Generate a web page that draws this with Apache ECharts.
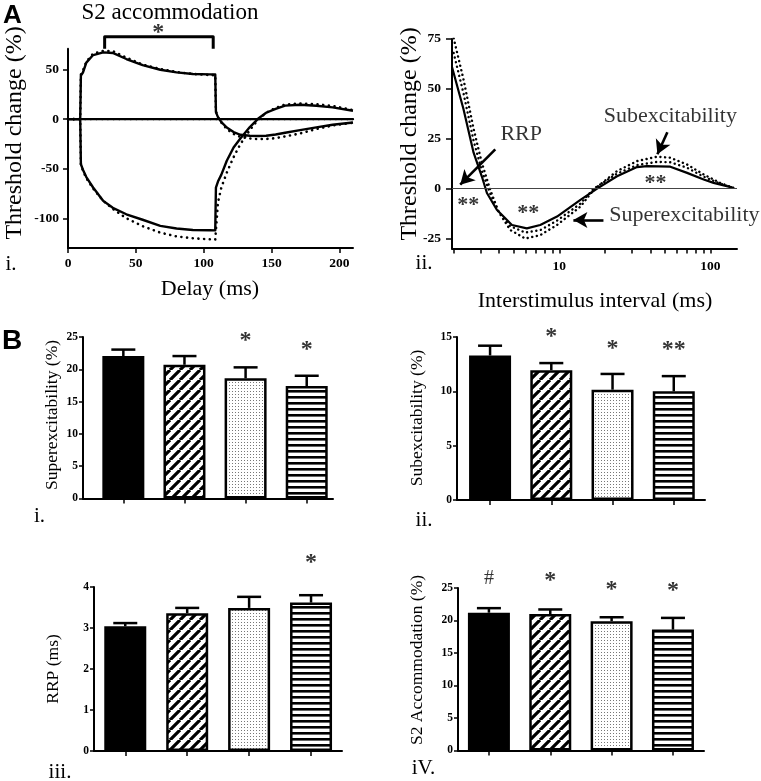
<!DOCTYPE html>
<html>
<head>
<meta charset="utf-8">
<script src="https://cdn.jsdelivr.net/npm/echarts@6.0.0/dist/echarts.min.js"></script>
<style>
html,body{margin:0;padding:0;background:#fff;}
#chart{width:761px;height:781px;}
</style>
</head>
<body>
<div id="chart"></div>
<script>
// ---------- Panel A-i ----------
const delayMs     = [0, 9, 9.5, 11, 13.5, 18.5, 26, 33, 43, 55, 68, 80, 92, 104.5, 108.5, 109, 110.5, 113, 117, 122, 127, 134, 140, 146, 153, 160, 171, 183, 195, 210];
const depolSolid  = [0, 0, 44, 47, 57, 64.6, 67.3, 66.7, 60.6, 54.5, 49.8, 47.1, 45.5, 45.1, 45, 7, 2, -3, -8.5, -13, -15.8, -16.8, -17, -16.8, -15.5, -13.8, -11.1, -8.4, -5.7, -3.4];
const depolDotted = [0, 0, 45, 49, 58, 66, 68.8, 68.5, 62, 55, 50.5, 47.5, 45.5, 44.5, 44.3, 8, 2, -3.5, -10, -15, -18, -19.5, -20.2, -20, -19.2, -17.5, -14.5, -10, -6.5, -3.7];
const hyperSolid  = [0, 0, -45.5, -51, -58.5, -69, -82.5, -89.5, -96, -101.5, -107.7, -110.3, -111.8, -112.1, -112.2, -69, -63, -56, -42, -28.6, -19.5, -8, 0.3, 6.4, 10.4, 13.6, 14.5, 13.5, 11.8, 8.4];
const hyperDotted = [0, 0, -46, -52, -59.5, -70, -82.5, -90.5, -100, -108, -114.5, -118.3, -120.2, -121.2, -121.5, -121.5, -84, -69, -54, -38.4, -25.3, -11, -0.7, 6.5, 11.3, 14.8, 15.7, 15, 13.3, 9.1];
const delayTicks  = [0, 50, 100, 150, 200];
const tcTicksA    = [-100, -50, 0, 50];
const bracketX    = [27, 27, 107, 107];
const bracketY    = [71, 83, 83, 71];
const bracketStar = [66.5, 91];

// ---------- Panel A-ii ----------
const isiSolid       = [1.95, 2.32, 2.71, 3.07, 3.32, 3.86, 4.86, 6.1, 7.48, 9.66, 13.8, 17.8, 24.1, 32.7, 38, 54.3, 70.1, 90.3, 105, 143];
const recSolid       = [61, 40, 18, 6.2, -2.2, -10.6, -18.2, -19.9, -18.2, -14, -5.6, 0, 6.2, 10.8, 11.3, 11, 7.9, 4.6, 2.9, 0.3];
const isiDotted      = [2.0, 2.32, 2.71, 3.07, 3.49, 3.96, 4.73, 5.96, 7.48, 9.66, 13.8, 16.9, 24.1, 32.7, 44.3, 54.3, 70.1, 90.3, 116, 143];
const recDottedOuter = [75.4, 55, 30, 13, -0.5, -11.5, -20.7, -25, -23.3, -18.2, -9, -0.5, 8.8, 13.8, 16, 15.5, 12.1, 7.1, 2.9, 0.3];
const recDottedInner = [68, 48, 24, 9, -2.5, -11.5, -18.8, -22, -20.8, -16, -7.5, 0, 7.5, 11.8, 13.4, 13.2, 10.5, 6, 2.5, 0.3];
const isiLabelTicks  = [10, 100];
const isiMinorTicks  = [2, 3, 4, 5, 6, 7, 8, 9, 10, 20, 30, 40, 50, 60, 70, 80, 90, 100];
const tcTicksB       = [-25, 0, 25, 50, 75];
const recNoteText    = ['RRP', 'Subexcitability', 'Superexcitability', '**', '**', '**'];
const recNoteIsi     = [5.6, 54.3, 67.3, 2.5, 6.24, 43.3];
const recNoteVal     = [27.3, 36.4, -13.2, -6.6, -10.6, 4.6];
const recArrowFrom   = [[3.77, 19.7], [19.6, -15.7], [51.9, 28.3]];
const recArrowTo     = [[2.21, 2.0], [12.4, -15.7], [44.6, 17.2]];

// ---------- Panel B ----------
const groupPos   = [1, 2, 3, 4];
const superMean  = [22.05, 20.7, 18.6, 17.4];
const superSem   = [1.0, 1.35, 1.7, 1.6];
const superSig   = ['', '', '*', '*'];
const superSigAt = [0, 0, 25.0, 23.7];
const subMean    = [13.3, 11.95, 10.15, 10.0];
const subSem     = [0.9, 0.65, 1.45, 1.4];
const subSig     = ['', '*', '*', '**'];
const subSigAt   = [0, 15.4, 14.3, 14.2];
const rrpMean    = [3.04, 3.36, 3.49, 3.62];
const rrpSem     = [0.08, 0.13, 0.27, 0.18];
const rrpSig     = ['', '', '', '*'];
const rrpSigAt   = [0, 0, 0, 4.7];
const s2Mean     = [21.2, 21.0, 19.9, 18.6];
const s2Sem      = [0.7, 0.7, 0.6, 1.8];
const s2Sig      = ['#', '*', '*', '*'];
const s2SigAt    = [26.4, 26.7, 25.4, 25.2];

// ---------- patterns ----------
function makeCanvas(w, h, draw) {
  const c = document.createElement('canvas'); c.width = w; c.height = h;
  const g = c.getContext('2d'); g.fillStyle = '#fff'; g.fillRect(0, 0, w, h); draw(g); return c;
}
const patDiag = makeCanvas(10, 10, g => {
  g.strokeStyle = '#000'; g.lineWidth = 3.2; g.beginPath();
  for (const k of [-1, 0, 1]) { g.moveTo(k * 10, 10); g.lineTo(k * 10 + 10, 0); }
  g.stroke();
});
const patDots = makeCanvas(3, 3, g => { g.fillStyle = '#777'; g.fillRect(1, 1, 1, 1); });
const patHoriz = makeCanvas(6, 6, g => { g.fillStyle = '#000'; g.fillRect(0, 0, 6, 2); g.fillStyle = '#666'; g.fillRect(0, 2, 6, 1); });
const barFills = ['#000', { image: patDiag, repeat: 'repeat' }, { image: patDots, repeat: 'repeat' }, { image: patHoriz, repeat: 'repeat' }];

const SERIF = 'Liberation Serif';
const zip = (a, b) => a.map((v, i) => [v, b[i]]);

function yAxisOf(grid, min, max, opts) {
  return Object.assign({
    type: 'value', gridIndex: grid, min: min, max: max,
    axisLine: { show: true, lineStyle: { color: '#000', width: 2 } },
    axisTick: { show: true, length: 4, lineStyle: { color: '#000', width: 1.5 } },
    axisLabel: { color: '#000', fontFamily: SERIF, fontWeight: 'bold', fontSize: 11.5, margin: 5 },
    splitLine: { show: false }
  }, opts);
}

const grids = [
  { left: 68, top: 48.7, width: 285, height: 199.3 },
  { left: 452, top: 39, width: 285, height: 209.5 },
  { left: 83, top: 337, width: 250, height: 161.5 },
  { left: 457, top: 337, width: 248, height: 163 },
  { left: 94, top: 587, width: 248, height: 164 },
  { left: 458, top: 588, width: 246, height: 162.5 }
];

const bLimits = [[0.34, 4.43], [0.46, 4.51], [0.495, 4.5], [0.496, 4.506]];
const xAxes = [
  { type: 'value', gridIndex: 0, min: 0, max: 210,
    axisLine: { show: true, onZero: false, lineStyle: { color: '#000', width: 2 } },
    axisTick: { show: true, length: 5, customValues: delayTicks, lineStyle: { color: '#000', width: 1.5 } },
    axisLabel: { customValues: delayTicks, color: '#000', fontFamily: SERIF, fontWeight: 'bold', fontSize: 13.5, margin: 9 },
    splitLine: { show: false } },
  { type: 'log', logBase: 10, gridIndex: 1, min: 1.95, max: 150,
    axisLine: { show: true, onZero: false, lineStyle: { color: '#000', width: 2 } },
    axisTick: { show: true, length: 5, customValues: isiMinorTicks, lineStyle: { color: '#000', width: 1.5 } },
    axisLabel: { customValues: isiLabelTicks, color: '#000', fontFamily: SERIF, fontWeight: 'bold', fontSize: 13.5, margin: 11 },
    splitLine: { show: false }, minorTick: { show: false } }
];
bLimits.forEach((lim, i) => xAxes.push({
  type: 'value', gridIndex: i + 2, min: lim[0], max: lim[1],
  axisLine: { show: true, onZero: false, lineStyle: { color: '#000', width: 2 } },
  axisTick: { show: true, length: 5, customValues: groupPos, lineStyle: { color: '#000', width: 1.5 } },
  axisLabel: { show: false }, splitLine: { show: false }
}));

const yAxes = [
  yAxisOf(0, -130, 71, { axisLabel: { customValues: tcTicksA, color: '#000', fontFamily: SERIF, fontWeight: 'bold', fontSize: 13.5, margin: 9 },
                          axisTick: { show: true, length: 5, customValues: tcTicksA, lineStyle: { color: '#000', width: 1.5 } } }),
  yAxisOf(1, -30, 75, { axisLabel: { customValues: tcTicksB, color: '#000', fontFamily: SERIF, fontWeight: 'bold', fontSize: 13.5, margin: 11 },
                         axisTick: { show: true, length: 6, customValues: tcTicksB, lineStyle: { color: '#000', width: 1.5 } } }),
  yAxisOf(2, 0, 25, { interval: 5 }),
  yAxisOf(3, 0, 15, { interval: 5 }),
  yAxisOf(4, 0, 4, { interval: 1 }),
  yAxisOf(5, 0, 25, { interval: 5 })
];

const series = [];
function curve(ax, xs, ys, dash, width, extra) {
  series.push(Object.assign({
    type: 'line', xAxisIndex: ax, yAxisIndex: ax, data: zip(xs, ys), symbol: 'none', smooth: false,
    lineStyle: { color: '#000', width: width, type: dash || 'solid', cap: dash ? 'round' : 'butt', join: 'round' },
    silent: true, animation: false, z: dash ? 3 : 4
  }, extra || {}));
}
const DOT_A = [0.1, 5.6];
const DOT_B = [0.1, 4.6];
// A-i
curve(0, [0, 210], [0, 0], DOT_A, 2.4);
curve(0, [0, 210], [0, 0], null, 2.2);
curve(0, delayMs, depolDotted, DOT_A, 2.6);
curve(0, delayMs, hyperDotted, DOT_A, 2.6);
curve(0, delayMs, depolSolid, null, 2.4);
curve(0, delayMs, hyperSolid, null, 2.4);
curve(0, bracketX, bracketY, null, 3, { clip: false });
series.push({ type: 'scatter', xAxisIndex: 0, yAxisIndex: 0, data: [bracketStar], symbolSize: 1, clip: false,
  itemStyle: { color: 'rgba(0,0,0,0)' }, silent: true, animation: false,
  label: { show: true, position: 'inside', formatter: '*', color: '#000', fontFamily: SERIF, fontWeight: 'bold', fontSize: 24, offset: [0, 4] } });
// A-ii
curve(1, isiDotted, recDottedOuter, DOT_B, 2.4, {
  markLine: { silent: true, symbol: 'none', label: { show: false }, animation: false,
    lineStyle: { color: '#444', width: 1, type: 'solid' }, data: [{ yAxis: 0 }] } });
curve(1, isiDotted, recDottedInner, DOT_B, 2.4);
curve(1, isiSolid, recSolid, null, 2.2, {
  markLine: { silent: true, symbol: ['none', 'arrow'], symbolSize: [12, 14], label: { show: false }, animation: false,
    lineStyle: { color: '#000', width: 2.6, type: 'solid' },
    data: recArrowFrom.map((f, i) => [{ coord: f }, { coord: recArrowTo[i] }]) } });
series.push({ type: 'scatter', xAxisIndex: 1, yAxisIndex: 1, clip: false, symbolSize: 1, silent: true, animation: false,
  itemStyle: { color: 'rgba(0,0,0,0)' },
  data: recNoteText.map((t, i) => ({ value: [recNoteIsi[i], recNoteVal[i]], name: t,
    label: t === '**' ? { fontSize: 22, fontWeight: 'bold', offset: [0, 4] } : { fontSize: 22 } })),
  label: { show: true, position: 'inside', formatter: p => p.name, color: '#000', fontFamily: SERIF } });

// B panels
const bPanels = [
  [superMean, superSem, superSig, superSigAt],
  [subMean, subSem, subSig, subSigAt],
  [rrpMean, rrpSem, rrpSig, rrpSigAt],
  [s2Mean, s2Sem, s2Sig, s2SigAt]
];
bPanels.forEach((p, i) => {
  const ax = i + 2;
  const [mean, sem, sig, sigAt] = p;
  series.push({ type: 'bar', xAxisIndex: ax, yAxisIndex: ax, barWidth: 42, silent: true, animation: false,
    data: groupPos.map((x, k) => ({ value: [x, mean[k]], itemStyle: { color: barFills[k], borderColor: '#000', borderWidth: 2.5 } })) });
  series.push({ type: 'custom', xAxisIndex: ax, yAxisIndex: ax, silent: true, animation: false, z: 5,
    data: groupPos.map((x, k) => [x, mean[k], sem[k]]),
    renderItem: (params, api) => {
      const base = api.coord([api.value(0), api.value(1)]);
      const top = api.coord([api.value(0), api.value(1) + api.value(2)]);
      const st = { stroke: '#000', lineWidth: 2.5 };
      return { type: 'group', children: [
        { type: 'line', shape: { x1: base[0], y1: base[1], x2: top[0], y2: top[1] }, style: st },
        { type: 'line', shape: { x1: top[0] - 12, y1: top[1], x2: top[0] + 12, y2: top[1] }, style: st }
      ] };
    } });
  series.push({ type: 'scatter', xAxisIndex: ax, yAxisIndex: ax, clip: false, symbolSize: 1, silent: true, animation: false,
    itemStyle: { color: 'rgba(0,0,0,0)' },
    data: groupPos.map((x, k) => ({ value: [x, sigAt[k]], name: sig[k],
      label: sig[k] === '#' ? { fontSize: 20, fontWeight: 'normal', offset: [0, 0] } : {} })).filter(d => d.name),
    label: { show: true, position: 'inside', formatter: q => q.name, color: '#000', fontFamily: SERIF, fontWeight: 'bold', fontSize: 24, offset: [0, 4] } });
});

function txt(text, x, y, size, opts) {
  return Object.assign({ type: 'text', x: x, y: y, silent: true,
    style: Object.assign({ text: text, fill: '#000', fontFamily: SERIF, fontSize: size, align: 'center', verticalAlign: 'middle' }, (opts && opts.style) || {}) },
    opts && opts.rotation ? { rotation: opts.rotation } : {});
}
const V = { rotation: Math.PI / 2 };
const graphics = [
  txt('A', 12.5, 16, 26, { style: { fontFamily: 'Liberation Sans', fontWeight: 'bold' } }),
  txt('B', 12, 341, 28, { style: { fontFamily: 'Liberation Sans', fontWeight: 'bold' } }),
  txt('S2 accommodation', 170, 13, 23),
  txt('Threshold change (%)', 15, 133, 24, V),
  txt('Delay (ms)', 210, 289, 22),
  txt('i.', 11, 264, 21),
  txt('Threshold change (%)', 410, 134, 24, V),
  txt('Interstimulus interval (ms)', 595, 301, 22),
  txt('ii.', 424, 263, 21),
  txt('Superexcitability (%)', 52, 415, 17.5, V),
  txt('Subexcitability (%)', 417, 418, 17.5, V),
  txt('RRP (ms)', 53, 669, 17.5, V),
  txt('S2 Accommodation (%)', 417, 660, 17.5, V),
  txt('i.', 39.5, 516, 21),
  txt('ii.', 424, 520, 21),
  txt('iii.', 60, 772, 21),
  txt('iV.', 423.5, 768, 21)
];

const chart = echarts.init(document.getElementById('chart'), null, { renderer: 'canvas' });
chart.setOption({
  animation: false,
  backgroundColor: '#fff',
  grid: grids,
  xAxis: xAxes,
  yAxis: yAxes,
  series: series,
  graphic: { elements: graphics }
});
</script>
</body>
</html>
